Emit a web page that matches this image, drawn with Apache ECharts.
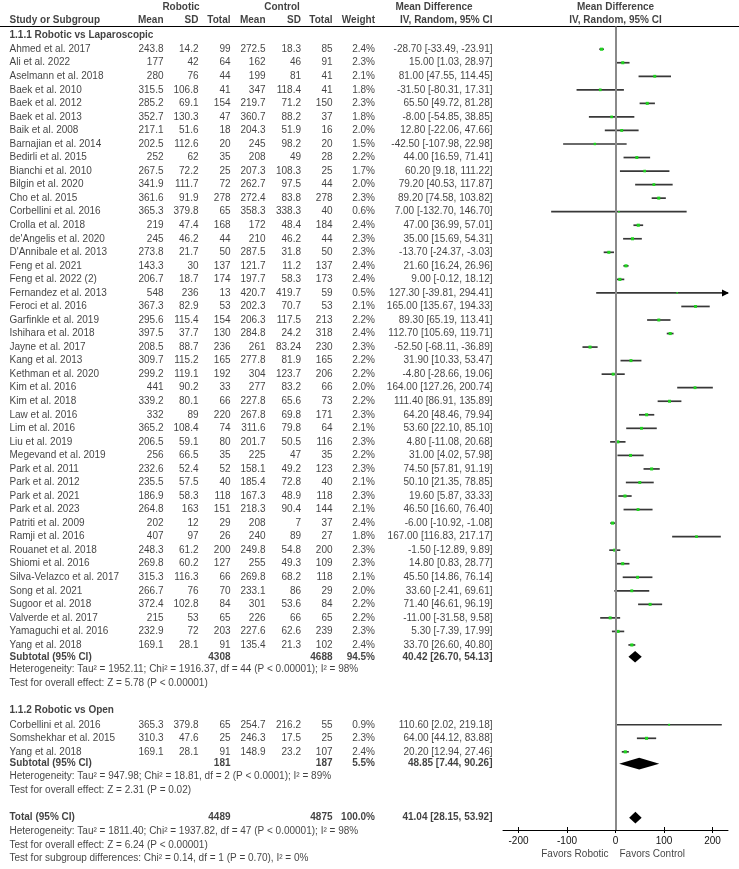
<!DOCTYPE html>
<html>
<head>
<meta charset="utf-8">
<script src="https://cdn.jsdelivr.net/npm/echarts@6/dist/echarts.min.js"></script>
<style>
  html, body { margin: 0; padding: 0; background: #fff; }
  #forest { width: 739px; height: 869px; }
</style>
</head>
<body>
<div id="forest"></div>
<script>
// 1.1.1 Robotic vs Laparoscopic
var lapNames = ['Ahmed et al. 2017', 'Ali et al. 2022', 'Aselmann et al. 2018', 'Baek et al. 2010', 'Baek et al. 2012',
    'Baek et al. 2013', 'Baik et al. 2008', 'Barnajian et al. 2014', 'Bedirli et al. 2015', 'Bianchi et al. 2010',
    'Bilgin et al. 2020', 'Cho et al. 2015', 'Corbellini et al. 2016', 'Crolla et al. 2018', "de'Angelis et al. 2020",
    "D'Annibale et al. 2013", 'Feng et al. 2021', 'Feng et al. 2022 (2)', 'Fernandez et al. 2013', 'Feroci et al. 2016',
    'Garfinkle et al. 2019', 'Ishihara et al. 2018', 'Jayne et al. 2017', 'Kang et al. 2013', 'Kethman et al. 2020',
    'Kim et al. 2016', 'Kim et al. 2018', 'Law et al. 2016', 'Lim et al. 2016', 'Liu et al. 2019',
    'Megevand et al. 2019', 'Park et al. 2011', 'Park et al. 2012', 'Park et al. 2021', 'Park et al. 2023',
    'Patriti et al. 2009', 'Ramji et al. 2016', 'Rouanet et al. 2018', 'Shiomi et al. 2016', 'Silva-Velazco et al. 2017',
    'Song et al. 2021', 'Sugoor et al. 2018', 'Valverde et al. 2017', 'Yamaguchi et al. 2016', 'Yang et al. 2018'];
var lapRMean = [243.8, 177, 280, 315.5, 285.2, 352.7, 217.1, 202.5, 252, 267.5, 341.9, 361.6, 365.3, 219, 245,
    273.8, 143.3, 206.7, 548, 367.3, 295.6, 397.5, 208.5, 309.7, 299.2, 441, 339.2, 332, 365.2, 206.5,
    256, 232.6, 235.5, 186.9, 264.8, 202, 407, 248.3, 269.8, 315.3, 266.7, 372.4, 215, 232.9, 169.1];
var lapRSD = [14.2, 42, 76, 106.8, 69.1, 130.3, 51.6, 112.6, 62, 72.2, 111.7, 91.9, 379.8, 47.4, 46.2,
    21.7, 30, 18.7, 236, 82.9, 115.4, 37.7, 88.7, 115.2, 119.1, 90.2, 80.1, 89, 108.4, 59.1,
    66.5, 52.4, 57.5, 58.3, 163, 12, 97, 61.2, 60.2, 116.3, 76, 102.8, 53, 72, 28.1];
var lapRN = [99, 64, 44, 41, 154, 47, 18, 20, 35, 25, 72, 278, 65, 168, 44,
    50, 137, 174, 13, 53, 154, 130, 236, 165, 192, 33, 66, 220, 74, 80,
    35, 52, 40, 118, 151, 29, 26, 200, 127, 66, 70, 84, 65, 203, 91];
var lapCMean = [272.5, 162, 199, 347, 219.7, 360.7, 204.3, 245, 208, 207.3, 262.7, 272.4, 358.3, 172, 210,
    287.5, 121.7, 197.7, 420.7, 202.3, 206.3, 284.8, 261, 277.8, 304, 277, 227.8, 267.8, 311.6, 201.7,
    225, 158.1, 185.4, 167.3, 218.3, 208, 240, 249.8, 255, 269.8, 233.1, 301, 226, 227.6, 135.4];
var lapCSD = [18.3, 46, 81, 118.4, 71.2, 88.2, 51.9, 98.2, 49, 108.3, 97.5, 83.8, 338.3, 48.4, 46.2,
    31.8, 11.2, 58.3, 419.7, 70.7, 117.5, 24.2, 83.24, 81.9, 123.7, 83.2, 65.6, 69.8, 79.8, 50.5,
    47, 49.2, 72.8, 48.9, 90.4, 7, 89, 54.8, 49.3, 68.2, 86, 53.6, 66, 62.6, 21.3];
var lapCN = [85, 91, 41, 41, 150, 37, 16, 20, 28, 25, 44, 278, 40, 184, 44,
    50, 137, 173, 59, 53, 213, 318, 230, 165, 206, 66, 73, 171, 64, 116,
    35, 123, 40, 118, 144, 37, 27, 200, 109, 118, 29, 84, 65, 239, 102];
var lapWeight = [2.4, 2.3, 2.1, 1.8, 2.3, 1.8, 2.0, 1.5, 2.2, 1.7, 2.0, 2.3, 0.6, 2.4, 2.3,
    2.3, 2.4, 2.4, 0.5, 2.1, 2.2, 2.4, 2.3, 2.2, 2.2, 2.0, 2.2, 2.3, 2.1, 2.3,
    2.2, 2.3, 2.1, 2.3, 2.1, 2.4, 1.8, 2.3, 2.3, 2.1, 2.0, 2.2, 2.2, 2.3, 2.4];
var lapMD = [-28.70, 15.00, 81.00, -31.50, 65.50, -8.00, 12.80, -42.50, 44.00, 60.20, 79.20, 89.20, 7.00, 47.00, 35.00,
    -13.70, 21.60, 9.00, 127.30, 165.00, 89.30, 112.70, -52.50, 31.90, -4.80, 164.00, 111.40, 64.20, 53.60, 4.80,
    31.00, 74.50, 50.10, 19.60, 46.50, -6.00, 167.00, -1.50, 14.80, 45.50, 33.60, 71.40, -11.00, 5.30, 33.70];
var lapLo = [-33.49, 1.03, 47.55, -80.31, 49.72, -54.85, -22.06, -107.98, 16.59, 9.18, 40.53, 74.58, -132.70, 36.99, 15.69,
    -24.37, 16.24, -0.12, -39.81, 135.67, 65.19, 105.69, -68.11, 10.33, -28.66, 127.26, 86.91, 48.46, 22.10, -11.08,
    4.02, 57.81, 21.35, 5.87, 16.60, -10.92, 116.83, -12.89, 0.83, 14.86, -2.41, 46.61, -31.58, -7.39, 26.60];
var lapHi = [-23.91, 28.97, 114.45, 17.31, 81.28, 38.85, 47.66, 22.98, 71.41, 111.22, 117.87, 103.82, 146.70, 57.01, 54.31,
    -3.03, 26.96, 18.12, 294.41, 194.33, 113.41, 119.71, -36.89, 53.47, 19.06, 200.74, 135.89, 79.94, 85.10, 20.68,
    57.98, 91.19, 78.85, 33.33, 76.40, -1.08, 217.17, 9.89, 28.77, 76.14, 69.61, 96.19, 9.58, 17.99, 40.80];

// 1.1.2 Robotic vs Open
var openNames = ['Corbellini et al. 2016', 'Somshekhar et al. 2015', 'Yang et al. 2018'];
var openRMean = [365.3, 310.3, 169.1];
var openRSD = [379.8, 47.6, 28.1];
var openRN = [65, 25, 91];
var openCMean = [254.7, 246.3, 148.9];
var openCSD = [216.2, 17.5, 23.2];
var openCN = [55, 25, 107];
var openWeight = [0.9, 2.3, 2.4];
var openMD = [110.60, 64.00, 20.20];
var openLo = [2.02, 44.12, 12.94];
var openHi = [219.18, 83.88, 27.46];

// pooled rows: [robotic total, control total, weight, md, lo, hi]
var lapPooled = [4308, 4688, 94.5, 40.42, 26.70, 54.13];
var openPooled = [181, 187, 5.5, 48.85, 7.44, 90.26];
var totalPooled = [4489, 4875, 100.0, 41.04, 28.15, 53.92];

var lapNotes = ['Heterogeneity: Tau\u00b2 = 1952.11; Chi\u00b2 = 1916.37, df = 44 (P < 0.00001); I\u00b2 = 98%',
    'Test for overall effect: Z = 5.78 (P < 0.00001)'];
var openNotes = ['Heterogeneity: Tau\u00b2 = 947.98; Chi\u00b2 = 18.81, df = 2 (P < 0.0001); I\u00b2 = 89%',
    'Test for overall effect: Z = 2.31 (P = 0.02)'];
var totalNotes = ['Heterogeneity: Tau\u00b2 = 1811.40; Chi\u00b2 = 1937.82, df = 47 (P < 0.00001); I\u00b2 = 98%',
    'Test for overall effect: Z = 6.24 (P < 0.00001)',
    'Test for subgroup differences: Chi\u00b2 = 0.14, df = 1 (P = 0.70), I\u00b2 = 0%'];

var axisTicks = [-200, -100, 0, 100, 200];

// layout (pixels)
var W = 739, H = 869;
var ROW = 13.54;
var RULE_Y = 26.5, AXIS_Y = 830;
var AXIS_MIN = -232, AXIS_MAX = 232;
var PLOT_LEFT = 503, PLOT_W = 225;
var FONT = "'Liberation Sans', Arial, Helvetica, sans-serif";
var col = {name: 9, rMean: 164, rSD: 199, rN: 231, cMean: 266, cSD: 301.5, cN: 333, weight: 375.5, ci: 493};

var labels = [];
var studyData = [];
var diamondData = [];

function addText(py, x, text, align, bold) {
    labels.push({
        value: [x, py / ROW],
        label: {
            formatter: text,
            position: align === 'right' ? 'left' : (align === 'left' ? 'right' : 'inside'),
            fontWeight: bold ? 'bold' : 'normal'
        }
    });
}

function ciText(md, lo, hi) {
    return md.toFixed(2) + ' [' + lo.toFixed(2) + ', ' + hi.toFixed(2) + ']';
}

function addGroup(y, g) {
    for (var i = 0; i < g.names.length; i++) {
        if (i > 0) y += ROW;
        addText(y, col.name, g.names[i], 'left');
        addText(y, col.rMean, String(g.rMean[i]), 'right');
        addText(y, col.rSD, String(g.rSD[i]), 'right');
        addText(y, col.rN, String(g.rN[i]), 'right');
        addText(y, col.cMean, String(g.cMean[i]), 'right');
        addText(y, col.cSD, String(g.cSD[i]), 'right');
        addText(y, col.cN, String(g.cN[i]), 'right');
        addText(y, col.weight, g.weight[i].toFixed(1) + '%', 'right');
        addText(y, col.ci, ciText(g.md[i], g.lo[i], g.hi[i]), 'right');
        studyData.push([g.md[i], y / ROW, g.lo[i], g.hi[i], g.weight[i]]);
    }
    return y;
}

function addPooled(y, title, p) {
    addText(y, col.name, title, 'left', true);
    addText(y, col.rN, String(p[0]), 'right', true);
    addText(y, col.cN, String(p[1]), 'right', true);
    addText(y, col.weight, p[2].toFixed(1) + '%', 'right', true);
    addText(y, col.ci, ciText(p[3], p[4], p[5]), 'right', true);
    diamondData.push([p[3], y / ROW, p[4], p[5]]);
}

// header
addText(7, 181, 'Robotic', 'center', true);
addText(7, 282, 'Control', 'center', true);
addText(7, 434, 'Mean Difference', 'center', true);
addText(7, 615.5, 'Mean Difference', 'center', true);
addText(20, col.name, 'Study or Subgroup', 'left', true);
addText(20, col.rMean, 'Mean', 'right', true);
addText(20, col.rSD, 'SD', 'right', true);
addText(20, col.rN, 'Total', 'right', true);
addText(20, col.cMean, 'Mean', 'right', true);
addText(20, col.cSD, 'SD', 'right', true);
addText(20, col.cN, 'Total', 'right', true);
addText(20, col.weight, 'Weight', 'right', true);
addText(20, col.ci, 'IV, Random, 95% CI', 'right', true);
addText(20, 615.5, 'IV, Random, 95% CI', 'center', true);

var y = 35;
addText(y, col.name, '1.1.1 Robotic vs Laparoscopic', 'left', true);
y = addGroup(y + 14.2, {names: lapNames, rMean: lapRMean, rSD: lapRSD, rN: lapRN, cMean: lapCMean,
    cSD: lapCSD, cN: lapCN, weight: lapWeight, md: lapMD, lo: lapLo, hi: lapHi});
y += 11.8; addPooled(y, 'Subtotal (95% CI)', lapPooled);
y += 12; addText(y, col.name, lapNotes[0], 'left');
y += 14.5; addText(y, col.name, lapNotes[1], 'left');

y += 26.5;
addText(y, col.name, '1.1.2 Robotic vs Open', 'left', true);
y = addGroup(y + 15, {names: openNames, rMean: openRMean, rSD: openRSD, rN: openRN, cMean: openCMean,
    cSD: openCSD, cN: openCN, weight: openWeight, md: openMD, lo: openLo, hi: openHi});
y += 11.8; addPooled(y, 'Subtotal (95% CI)', openPooled);
y += 12.5; addText(y, col.name, openNotes[0], 'left');
y += 14; addText(y, col.name, openNotes[1], 'left');

y += 27.5; addPooled(y, 'Total (95% CI)', totalPooled);
y += 14; addText(y, col.name, totalNotes[0], 'left');
y += 13.5; addText(y, col.name, totalNotes[1], 'left');
y += 13.5; addText(y, col.name, totalNotes[2], 'left');

addText(854, 609, 'Favors Robotic', 'right');
addText(854, 619, 'Favors Control', 'left');

function renderStudy(params, api) {
    var md = api.value(0), pos = api.value(1), lo = api.value(2), hi = api.value(3), w = api.value(4);
    var left = api.coord([Math.max(lo, AXIS_MIN), pos]);
    var right = api.coord([Math.min(hi, AXIS_MAX), pos]);
    var mid = api.coord([md, pos]);
    var box = Math.max(1.6, Math.sqrt(w) * 2);
    var parts = [{
        type: 'line',
        shape: {x1: left[0], y1: left[1], x2: right[0], y2: right[1]},
        style: {stroke: '#383838', lineWidth: 1.7}
    }];
    if (hi > AXIS_MAX) {
        parts.push({
            type: 'polygon',
            shape: {points: [[right[0] + 1, right[1]], [right[0] - 6, right[1] - 3.5], [right[0] - 6, right[1] + 3.5]]},
            style: {fill: '#000'}
        });
    }
    parts.push({
        type: 'rect',
        shape: {x: mid[0] - box / 2, y: mid[1] - box / 2, width: box, height: box},
        style: {fill: '#1fd41f'}
    });
    return {type: 'group', children: parts};
}

function renderDiamond(params, api) {
    var pos = api.value(1);
    var l = api.coord([api.value(2), pos]);
    var r = api.coord([api.value(3), pos]);
    var c = api.coord([api.value(0), pos]);
    var h = 5.8;
    return {
        type: 'polygon',
        shape: {points: [[l[0], l[1]], [c[0], c[1] - h], [r[0], r[1]], [c[0], c[1] + h]]},
        style: {fill: '#000'}
    };
}

var myChart = echarts.init(document.getElementById('forest'));

var option = {
    animation: false,
    backgroundColor: '#fff',
    textStyle: {fontFamily: FONT},
    grid: [
        {left: 0, top: 0, width: W, height: H},
        {left: PLOT_LEFT, top: RULE_Y, width: PLOT_W, height: AXIS_Y - RULE_Y}
    ],
    xAxis: [
        {gridIndex: 0, type: 'value', min: 0, max: W, show: false},
        {
            gridIndex: 1, type: 'value', min: AXIS_MIN, max: AXIS_MAX, position: 'bottom',
            axisLine: {show: true, lineStyle: {color: '#000', width: 1}},
            axisTick: {show: true, length: 3, customValues: axisTicks, lineStyle: {color: '#000'}},
            axisLabel: {show: true, customValues: axisTicks, color: '#111', fontSize: 10, margin: 6, fontFamily: FONT},
            splitLine: {show: false}
        },
        {
            gridIndex: 1, type: 'value', min: AXIS_MIN, max: AXIS_MAX, position: 'bottom',
            axisLine: {show: false},
            axisTick: {show: true, inside: true, length: 3, customValues: axisTicks, lineStyle: {color: '#000'}},
            axisLabel: {show: false},
            splitLine: {show: false}
        }
    ],
    yAxis: [
        {gridIndex: 0, type: 'value', inverse: true, min: 0, max: H / ROW, show: false},
        {gridIndex: 1, type: 'value', inverse: true, min: RULE_Y / ROW, max: AXIS_Y / ROW, show: false}
    ],
    series: [
        {
            name: 'table',
            type: 'scatter',
            xAxisIndex: 0,
            yAxisIndex: 0,
            symbolSize: 1,
            itemStyle: {color: 'rgba(0,0,0,0)'},
            silent: true,
            label: {show: true, distance: 0, fontSize: 10, color: '#111', fontFamily: FONT},
            data: labels,
            markLine: {
                silent: true,
                symbol: 'none',
                label: {show: false},
                lineStyle: {color: '#000', width: 1, type: 'solid'},
                data: [{yAxis: RULE_Y / ROW}]
            },
            z: 2
        },
        {
            name: 'zero',
            type: 'line',
            xAxisIndex: 1,
            yAxisIndex: 1,
            data: [],
            markLine: {
                silent: true,
                symbol: 'none',
                label: {show: false},
                lineStyle: {color: '#8a8a8a', width: 2, type: 'solid'},
                data: [{xAxis: 0}]
            },
            z: 1
        },
        {
            name: 'studies',
            type: 'custom',
            xAxisIndex: 1,
            yAxisIndex: 1,
            renderItem: renderStudy,
            encode: {x: 0, y: 1},
            clip: false,
            silent: true,
            data: studyData,
            z: 3
        },
        {
            name: 'pooled',
            type: 'custom',
            xAxisIndex: 1,
            yAxisIndex: 1,
            renderItem: renderDiamond,
            encode: {x: 0, y: 1},
            clip: false,
            silent: true,
            data: diamondData,
            z: 3
        }
    ]
};

myChart.setOption(option);
</script>
</body>
</html>
